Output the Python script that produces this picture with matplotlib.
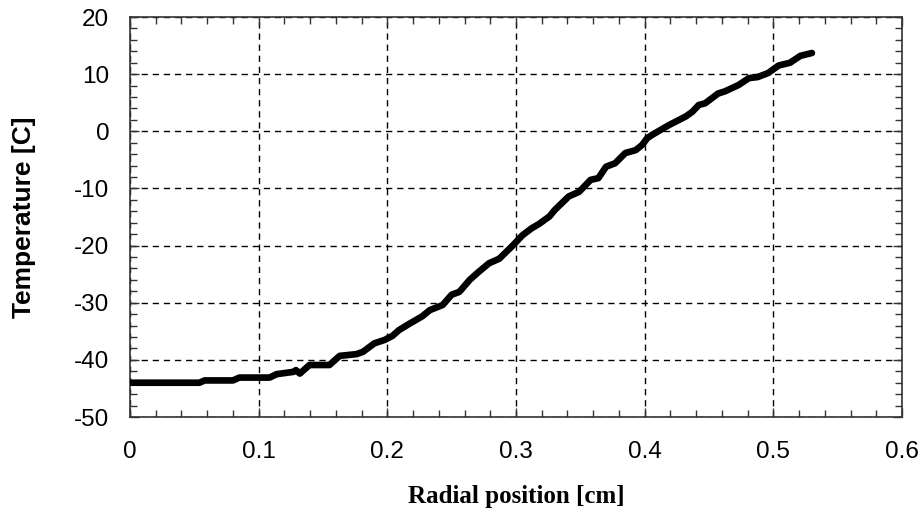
import matplotlib
matplotlib.use("Agg")
import matplotlib.pyplot as plt
from matplotlib.ticker import MultipleLocator

plt.rcParams["axes.unicode_minus"] = False

# Measured temperature profile along the radius
radial_cm = [0.000, 0.054, 0.058, 0.080, 0.085, 0.1085, 0.114, 0.127, 0.129, 0.132,
             0.1395, 0.155, 0.163, 0.176, 0.181, 0.190, 0.198, 0.204, 0.209, 0.217,
             0.227, 0.233, 0.243, 0.250, 0.256, 0.264, 0.271, 0.279, 0.287, 0.297,
             0.305, 0.312, 0.318, 0.326, 0.330, 0.341, 0.349, 0.358, 0.364, 0.370,
             0.377, 0.385, 0.393, 0.398, 0.402, 0.406, 0.419, 0.432, 0.437, 0.442,
             0.447, 0.457, 0.4625, 0.473, 0.481, 0.488, 0.496, 0.504, 0.513, 0.521,
             0.530]
temp_c = [-44.0, -44.0, -43.6, -43.6, -43.1, -43.1, -42.5, -42.1, -41.8, -42.4,
          -40.9, -40.9, -39.3, -39.0, -38.6, -37.1, -36.5, -35.8, -34.8, -33.7,
          -32.4, -31.3, -30.4, -28.6, -28.1, -26.0, -24.6, -23.1, -22.3, -20.1,
          -18.2, -17.0, -16.2, -14.9, -13.8, -11.4, -10.6, -8.5, -8.2, -6.2,
          -5.6, -3.8, -3.3, -2.4, -1.2, -0.6, 1.1, 2.6, 3.4, 4.6,
          4.9, 6.6, 7.0, 8.1, 9.3, 9.5, 10.2, 11.5, 12.0, 13.2,
          13.7]

x_ticks = [0, 0.1, 0.2, 0.3, 0.4, 0.5, 0.6]
x_tick_labels = ["0", "0.1", "0.2", "0.3", "0.4", "0.5", "0.6"]
y_ticks = [-50, -40, -30, -20, -10, 0, 10, 20]

fig = plt.figure(figsize=(9.22, 5.14), dpi=100)
ax = fig.add_axes([130 / 922, 97 / 514, 772 / 922, 400 / 514])

ax.plot(radial_cm, temp_c, color="black", lw=4.8, solid_capstyle="round",
        solid_joinstyle="round", zorder=3)

ax.set_xlim(0, 0.6)
ax.set_ylim(-50, 20)
ax.set_xticks(x_ticks)
ax.set_xticklabels(x_tick_labels)
ax.set_yticks(y_ticks)
ax.xaxis.set_minor_locator(MultipleLocator(0.02))
ax.yaxis.set_minor_locator(MultipleLocator(2))

ax.grid(True, which="major", color="black", linestyle=(0, (4.5, 3.5)), lw=1.0)

ax.tick_params(which="both", direction="in", top=True, right=True,
               color="#333333", width=1.0)
ax.tick_params(which="major", length=6.5)
ax.tick_params(which="minor", length=5)
ax.tick_params(axis="x", which="major", pad=17)
ax.tick_params(axis="y", which="major", pad=15)

for lbl in ax.get_xticklabels() + ax.get_yticklabels():
    lbl.set_fontfamily("Liberation Sans")
    lbl.set_fontsize(17.5)

for sp in ax.spines.values():
    sp.set_color("#333333")
    sp.set_linewidth(1.2)

ax.set_xlabel("Radial position [cm]", family="Liberation Serif",
              fontweight="bold", fontsize=18, labelpad=16)
ax.set_ylabel("Temperature [C]", family="Liberation Sans",
              fontweight="bold", fontsize=19, labelpad=27)

fig.savefig("out.png", dpi=100)
